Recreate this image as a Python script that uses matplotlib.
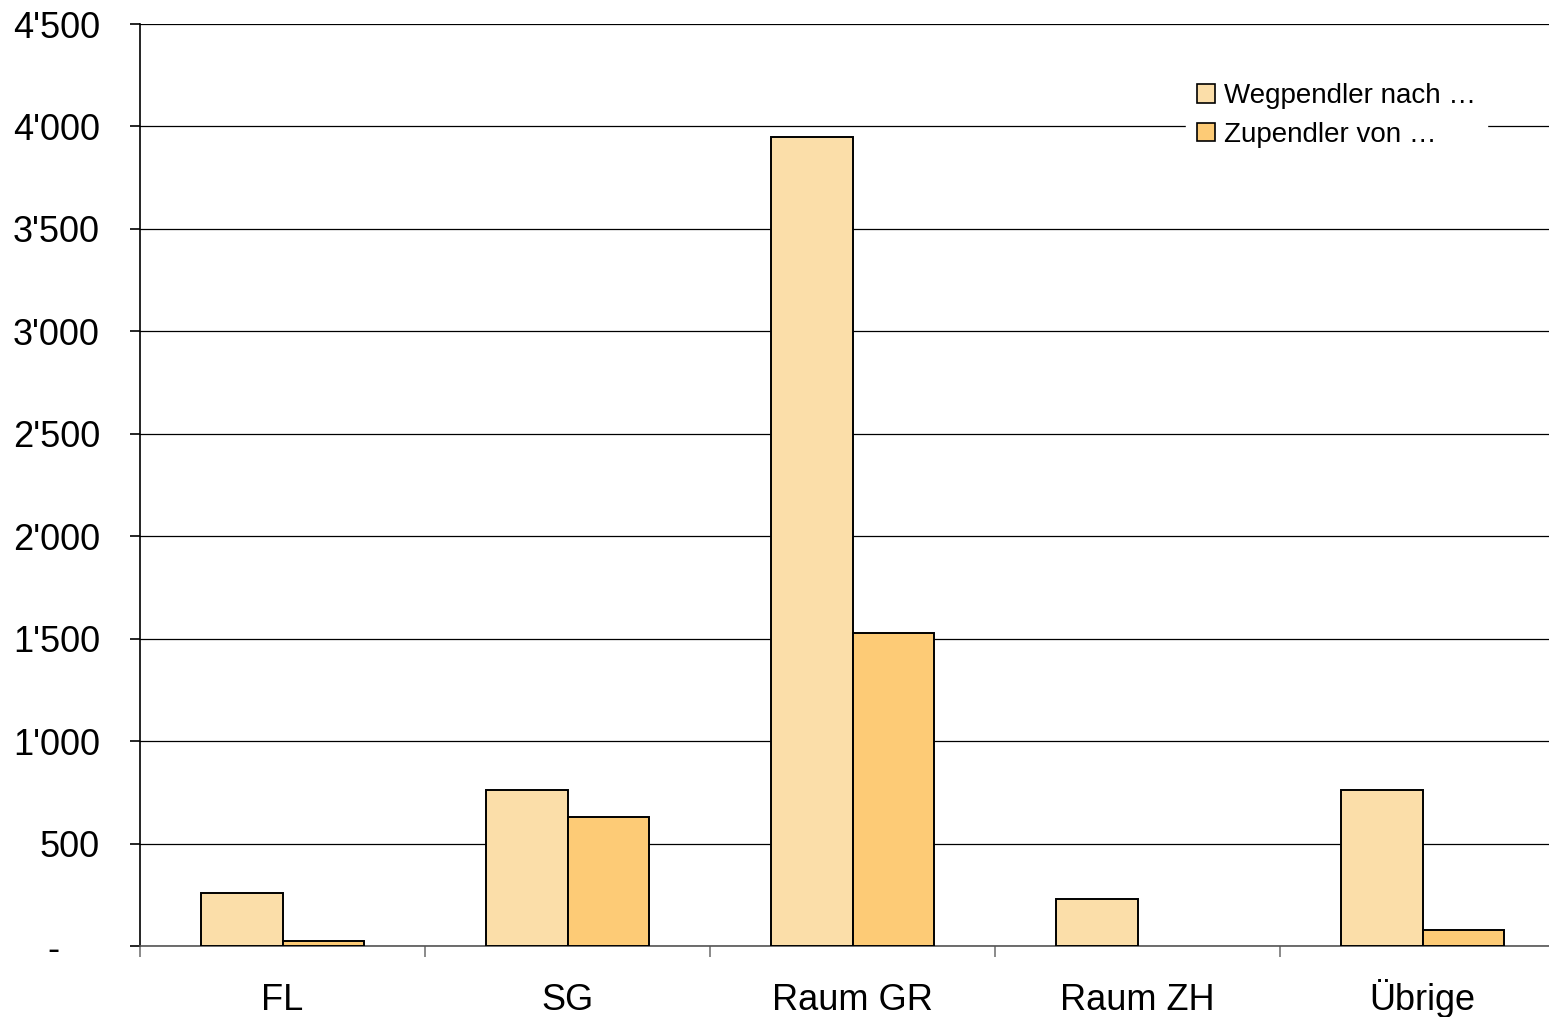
import numpy as np
import matplotlib
matplotlib.use('agg')
import matplotlib.pyplot as plt
from matplotlib.ticker import FuncFormatter, MultipleLocator

plt.rcParams['font.family'] = ['Liberation Sans', 'DejaVu Sans']

# data
categories = ['FL', 'SG', 'Raum GR', 'Raum ZH', 'Übrige']
wegpendler = [260, 760, 3950, 230, 760]
zupendler = [25, 630, 1530, 0, 80]
series_labels = ['Wegpendler nach …', 'Zupendler von …']
colors = ['#FBDEA9', '#FDCB76']


def fmt(v, pos):
    if v == 0:
        return '-    '
    return f"{int(v):,}".replace(',', "'")


def main():
    fig = plt.figure(figsize=(15.49, 10.17), dpi=100)
    ax = fig.add_axes([140 / 1549, 1 - 946 / 1017, 1425 / 1549, 922 / 1017])

    x = np.arange(len(categories))
    w = 1 / 3.5
    # no outline for empty bars (Raum ZH has no Zupendler)
    lw_weg = [1.4 if v > 0 else 0 for v in wegpendler]
    lw_zu = [1.4 if v > 0 else 0 for v in zupendler]
    ax.bar(x - w / 2, wegpendler, w, color=colors[0], edgecolor='black',
           linewidth=lw_weg, label=series_labels[0], zorder=3)
    ax.bar(x + w / 2, zupendler, w, color=colors[1], edgecolor='black',
           linewidth=lw_zu, label=series_labels[1], zorder=3)

    ax.set_xlim(-0.5, len(categories) - 0.5)
    ax.set_ylim(0, 4500)
    ax.yaxis.set_major_locator(MultipleLocator(500))
    ax.yaxis.set_major_formatter(FuncFormatter(fmt))
    ax.grid(axis='y', color='black', linewidth=0.9, zorder=0)

    # category labels between boundary ticks, sharing one baseline
    ax.set_xticks(x)
    ax.set_xticklabels(categories, fontsize=26, va='baseline')
    ax.tick_params(axis='x', length=0, pad=46)
    ax.set_xticks(np.arange(len(categories) + 1) - 0.5, minor=True)
    ax.tick_params(axis='x', which='minor', length=8, width=1.2, color='#777777')
    ax.tick_params(axis='y', labelsize=26, length=7.2, width=1.2, pad=21.6)

    for s in ['top', 'right']:
        ax.spines[s].set_visible(False)
    ax.spines['left'].set_linewidth(1.2)
    ax.spines['bottom'].set_linewidth(1.2)
    ax.spines['bottom'].set_color('#555555')

    leg = ax.legend(loc='upper right', bbox_to_anchor=((1487 - 140) / 1425, 1 - 48 / 922),
                    frameon=True, fancybox=False, fontsize=20, handlelength=0.65,
                    handleheight=0.65, handletextpad=0.3, borderpad=0.4,
                    labelspacing=0.45, borderaxespad=0)
    leg.get_frame().set_edgecolor('white')
    leg.get_frame().set_facecolor('white')
    leg.get_frame().set_alpha(1)
    leg.set_zorder(5)
    for h in leg.legend_handles:
        h.set_linewidth(1.2)

    fig.savefig('out.png', dpi=100)
    plt.close(fig)


if __name__ == '__main__':
    main()
